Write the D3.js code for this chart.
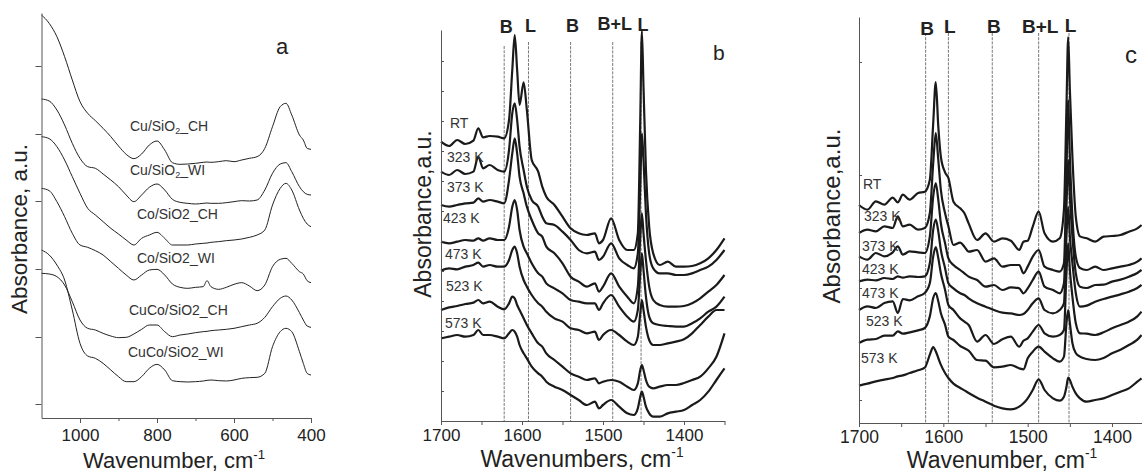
<!DOCTYPE html>
<html>
<head>
<meta charset="utf-8">
<script src="https://cdn.jsdelivr.net/npm/d3@7/dist/d3.min.js"></script>
<style>
  body { margin: 0; background: #fff; }
  svg { display: block; font-family: "Liberation Sans", Arial, sans-serif; }
</style>
</head>
<body>
<svg id="chart" width="1142" height="473"></svg>
<script>
// ---- panel a : spectra of the catalysts (absorbance x1000, a.u.)
const wnA = [1100,1080,1060,1040,1020,1000,980,960,940,920,900,880,860,840,820,800,780,760,740,720,
             700,680,670,660,640,620,600,580,560,540,520,500,480,465,450,430,420,410,400];
const cuCH   = [1209,1184,1144,1084,1014,949,914,892,869,844,816,791,778,792,819,831,804,766,761,762,
                764,767,768,767,769,772,769,774,779,784,809,874,934,944,909,849,834,809,806];
const cuWI   = [957,951,924,879,824,779,754,749,732,714,694,669,649,669,692,702,684,656,647,644,
                642,644,645,644,644,646,649,652,651,654,684,734,762,766,739,694,679,671,669];
const coCH   = [844,838,814,774,724,674,629,609,589,569,552,534,519,539,549,557,539,519,519,519,
                522,524,525,527,529,532,534,537,542,549,564,639,689,704,684,624,599,582,574];
const coWI   = [689,682,649,604,554,519,512,502,489,469,449,429,414,429,444,446,429,402,392,389,
                392,394,412,394,386,392,401,406,396,382,399,454,476,479,464,439,432,412,406];
const cucoCH = [434,432,424,399,349,294,269,264,254,246,241,242,252,266,279,279,259,244,249,252,
                256,259,260,262,264,266,269,274,279,284,302,334,359,366,354,316,294,276,272];
const cucoWI = [504,489,459,414,324,224,186,179,164,144,124,109,109,124,149,161,144,112,109,108,
                109,111,113,114,112,111,114,119,121,122,134,214,259,269,259,199,164,134,129];
const namesA = [['Cu/SiO', '2', '_CH'], ['Cu/SiO', '2', '_WI'], ['Co/SiO2_CH'], ['Co/SiO2_WI'],
                ['CuCo/SiO2_CH'], ['CuCo/SiO2_WI']];
const ticksA = [42, 243, 447, 651, 852, 1056];

// ---- panel b
const wnB = [1700,1690,1680,1670,1660,1654,1648,1640,1630,1622,1616,1612,1609,1606,1603,1598,1594,1588,1580,1575,
             1570,1560,1550,1540,1530,1520,1510,1505,1500,1490,1480,1470,1462,1457,1454,1452,1450,1447,1443,1438,
             1430,1420,1410,1400,1390,1380,1370,1360,1350];
const bRT  = [838,825,843,831,841,878,851,855,853,848,903,1053,1158,1053,948,1016,933,783,748,703,
              673,648,613,578,563,558,563,533,543,608,543,513,513,563,903,1170,1003,753,583,503,
              468,478,463,463,465,473,488,513,548];
const b323 = [748,738,753,741,748,793,758,768,753,748,813,923,953,903,823,753,703,663,643,613,
              593,588,568,543,513,503,508,483,493,533,488,468,458,503,703,863,783,623,503,458,
              443,443,438,438,443,453,463,483,513];
const b373 = [648,643,648,653,655,668,658,663,658,653,723,803,848,803,733,683,643,603,563,553,
              523,503,473,433,418,403,413,388,403,443,403,373,353,403,553,623,563,483,403,363,
              348,343,343,345,353,368,388,408,438];
const b423 = [538,533,538,543,541,548,541,548,543,543,583,643,663,633,573,523,503,473,443,433,
              413,398,383,363,358,353,353,333,353,378,343,313,298,333,443,503,453,373,313,293,
              288,285,283,283,293,308,328,343,373];
const b473 = [451,458,455,463,468,475,463,468,463,463,483,513,523,503,463,423,403,378,353,343,
              328,308,298,278,273,263,268,243,258,273,258,238,228,253,323,363,333,283,243,228,
              228,233,238,245,263,288,313,333,333];
const b523 = [333,341,345,351,355,363,353,358,343,335,353,373,368,348,333,308,288,263,233,223,
              203,183,163,143,133,123,128,113,118,123,118,103,93,113,153,168,153,123,103,98,
              103,108,108,114,123,133,158,193,263];
const b573 = [248,253,258,253,258,273,258,258,253,248,263,273,268,253,228,203,188,163,143,133,
              118,103,93,78,63,48,58,38,48,63,43,23,18,38,73,88,73,43,23,13,
              13,23,28,33,48,63,88,123,158];
const bandsB = [1622, 1592, 1540, 1488, 1453];
const ticksB = [90,180,270,360,450,540,630,720,810,900,990,1080];

// ---- panel c
const wnC = [1700,1690,1680,1670,1660,1654,1648,1640,1630,1622,1616,1612,1609,1606,1603,1598,1594,1588,1580,1575,
             1570,1560,1550,1540,1530,1520,1510,1505,1500,1494,1487,1480,1470,1462,1457,1454,1452,1450,1447,1443,
             1438,1430,1420,1410,1400,1390,1380,1370,1365];
const cRT  = [654,640,665,655,676,662,685,670,690,694,730,900,1023,890,800,752,735,664,644,629,
              599,549,569,544,554,547,519,544,547,589,634,569,544,554,640,950,1158,1000,800,620,
              560,554,544,559,561,564,574,584,594];
const c323 = [570,580,575,590,585,620,590,595,580,585,630,780,870,790,700,630,590,534,541,529,
              514,519,484,494,469,474,474,449,469,499,519,469,459,454,479,750,969,800,620,500,
              465,459,469,459,464,469,474,484,494];
const c373 = [500,490,510,500,512,530,505,515,512,510,560,680,720,670,600,540,494,474,459,449,
              439,429,409,414,399,407,404,389,404,429,454,409,399,389,419,650,789,680,560,450,
              409,405,414,415,424,430,439,450,459];
const c423 = [425,430,428,435,432,440,436,440,438,440,480,580,610,575,520,465,419,404,389,384,
              374,359,349,339,331,329,324,327,339,359,374,339,329,339,359,560,648,560,480,390,
              349,352,364,372,379,386,394,405,414];
const c473 = [339,350,345,360,365,330,372,368,380,390,420,500,528,495,450,400,354,339,314,304,
              294,244,264,237,251,259,229,247,254,274,294,269,259,264,279,450,540,460,380,300,
              269,268,264,272,284,294,304,320,334];
const c523 = [240,250,252,262,262,275,268,272,278,285,320,375,390,365,330,295,259,249,231,224,
              217,189,187,167,169,174,164,161,194,214,229,214,194,184,199,300,339,300,240,210,
              199,192,189,195,209,220,234,250,264];
const c573 = [112,118,125,130,135,140,143,150,158,166,205,228,215,195,175,150,135,118,105,98,
              90,76,64,52,44,41,49,59,74,99,131,99,74,67,79,109,136,129,109,89,
              74,64,69,74,84,94,104,124,134];
const bandsC = [1621, 1594, 1542, 1487, 1451];
const ticksC = [69, 405, 744, 1083];

const bandNames = ['B', 'L', 'B', 'B+L', 'L'];
const temps = ['RT', '323 K', '373 K', '423 K', '473 K', '523 K', '573 K'];

const svg = d3.select('#chart');

function drawPanel(p) {
    const x = d3.scaleLinear().domain(p.xdom).range(p.xrange);
    const y = d3.scaleLinear().domain(p.ydom).range(p.yrange);
    const g = svg.append('g');

    // band marker lines
    if (p.bands) {
        p.bands.forEach((b, i) => {
            g.append('line')
                .attr('x1', x(b)).attr('x2', x(b))
                .attr('y1', i == 0 ? p.bandTop + p.firstDrop : p.bandTop)
                .attr('y2', p.yrange[0])
                .attr('stroke', '#555')
                .attr('stroke-width', 0.8)
                .attr('stroke-dasharray', '3,1.2');
            g.append('text')
                .attr('x', x(b) + p.bandDx)
                .attr('y', p.bandY[i])
                .attr('text-anchor', 'middle')
                .style('font-size', p.bandSize + 'px')
                .style('font-weight', 'bold')
                .attr('fill', '#222')
                .text(bandNames[i]);
        });
    }

    const line = d3.line()
        .x((d, i) => x(p.wn[i]))
        .y(d => y(d))
        .curve(d3.curveMonotoneX);

    p.series.forEach(s => {
        g.append('path')
            .attr('d', line(s))
            .attr('fill', 'none')
            .attr('stroke', p.stroke)
            .attr('stroke-width', p.lw)
            .attr('stroke-linejoin', 'round');
    });

    // axes
    const xaxis = d3.axisBottom(x)
        .tickValues(p.xticks)
        .tickSize(p.xtickSize)
        .tickSizeOuter(0)
        .tickPadding(p.tickPad)
        .tickFormat(d => p.xlabels.includes(d) ? d : '');
    const xg = g.append('g')
        .attr('transform', `translate(0, ${p.yrange[0]})`)
        .call(xaxis);
    if (p.xminor) {
        g.append('g')
            .attr('transform', `translate(0, ${p.yrange[0]})`)
            .call(d3.axisBottom(x).tickValues(p.xminor).tickSize(3).tickSizeOuter(0).tickFormat(''))
            .select('.domain').remove();
    }
    const yaxis = d3.axisLeft(y)
        .tickValues(p.yticks)
        .tickSize(p.ytickSize)
        .tickSizeOuter(0)
        .tickFormat('');
    g.append('g')
        .attr('transform', `translate(${p.xrange[0]}, 0)`)
        .call(yaxis);

    g.selectAll('.domain').attr('stroke', '#555');
    g.selectAll('.tick line').attr('stroke', '#555');
    xg.selectAll('.tick text')
        .style('font-size', p.tickFont + 'px')
        .style('font-family', '"Liberation Sans", Arial, sans-serif')
        .attr('fill', '#222');

    // axis titles
    const xt = g.append('text')
        .attr('x', p.xtitle.x)
        .attr('y', p.xtitle.y)
        .attr('text-anchor', 'middle')
        .style('font-size', p.xtitle.size + 'px')
        .attr('fill', '#222');
    xt.append('tspan').text(p.xtitle.text);
    xt.append('tspan')
        .attr('dy', -p.xtitle.size * 0.42)
        .style('font-size', (p.xtitle.size * 0.6) + 'px')
        .text('-1');

    g.append('text')
        .attr('transform', `translate(${p.ytitle.x}, ${p.ytitle.y}) rotate(-90)`)
        .attr('text-anchor', 'middle')
        .style('font-size', p.ytitle.size + 'px')
        .attr('fill', '#222')
        .text(p.ytitle.text);

    g.append('text')
        .attr('x', p.letter.x)
        .attr('y', p.letter.y)
        .style('font-size', p.letter.size + 'px')
        .attr('fill', '#222')
        .text(p.letter.text);

    // curve labels
    p.labels.forEach((l, i) => {
        const t = g.append('text')
            .attr('x', p.labelX[i])
            .attr('y', p.labelY[i])
            .style('font-size', p.labelSize + 'px')
            .attr('fill', '#333');
        if (Array.isArray(l) && l.length == 3) {
            t.append('tspan').text(l[0]);
            t.append('tspan').attr('dy', 3).style('font-size', '9px').text(l[1]);
            t.append('tspan').attr('dy', -3).text(l[2]);
        } else {
            t.text(Array.isArray(l) ? l[0] : l);
        }
    });
}

drawPanel({
    wn: wnA, series: [cuCH, cuWI, coCH, coWI, cucoCH, cucoWI],
    xdom: [1100, 400], xrange: [41.5, 311],
    ydom: [0, 1215], yrange: [418, 13],
    stroke: '#222', lw: 1,
    xticks: [1000, 800, 600, 400], xlabels: [1000, 800, 600, 400], xtickSize: 5,
    xminor: [900, 700, 500],
    yticks: ticksA, ytickSize: 6,
    tickFont: 17, tickPad: 6,
    xtitle: {x: 174, y: 468, size: 22, text: 'Wavenumber, cm'},
    ytitle: {x: 27, y: 229, size: 22.5, text: 'Absorbance, a.u.'},
    letter: {x: 276, y: 54, size: 22, text: 'a'},
    labels: namesA, labelSize: 14,
    labelX: [130, 130, 137, 137, 129, 128],
    labelY: [131, 175, 219, 263, 315, 357]
});

drawPanel({
    wn: wnB, series: [bRT, b323, b373, b423, b473, b523, b573],
    xdom: [1700, 1350], xrange: [441, 724.5],
    ydom: [0, 1173], yrange: [421, 30],
    stroke: '#1a1a1a', lw: 2.2,
    bands: bandsB, bandTop: 42, firstDrop: 4, bandDx: 2, bandY: [33, 32, 32, 30, 31], bandSize: 18,
    xticks: [1700, 1650, 1600, 1550, 1500, 1450, 1400, 1350], xlabels: [1700, 1600, 1500, 1400], xtickSize: 4,
    yticks: ticksB, ytickSize: -3,
    tickFont: 17, tickPad: 4,
    xtitle: {x: 582, y: 467, size: 23, text: 'Wavenumbers, cm'},
    ytitle: {x: 431, y: 214, size: 23, text: 'Absorbance,a.u.'},
    letter: {x: 713, y: 60, size: 21, text: 'b'},
    labels: temps, labelSize: 14,
    labelX: [450, 447, 447, 443, 445, 446, 445],
    labelY: [128, 162, 192, 223, 259, 291, 328]
});

drawPanel({
    wn: wnC, series: [cRT, c323, c373, c423, c473, c523, c573],
    xdom: [1700, 1350], xrange: [859, 1154.2],
    ydom: [0, 1218], yrange: [423, 17],
    stroke: '#1a1a1a', lw: 2.2,
    bands: bandsC, bandTop: 33, firstDrop: 0, bandDx: 1.5, bandY: [35, 33, 33, 33, 32], bandSize: 19,
    xticks: [1700, 1650, 1600, 1550, 1500, 1450, 1400], xlabels: [1700, 1600, 1500, 1400], xtickSize: 4,
    yticks: ticksC, ytickSize: -3,
    tickFont: 17.5, tickPad: 4,
    xtitle: {x: 1002, y: 468, size: 23, text: 'Wavenumber, cm'},
    ytitle: {x: 840, y: 216, size: 24, text: 'Absorbance,a.u.'},
    letter: {x: 1125, y: 63, size: 24, text: 'c'},
    labels: temps, labelSize: 14,
    labelX: [863, 864, 862, 862, 862, 866, 861],
    labelY: [189, 221, 251, 274, 298, 326, 363]
});
</script>
</body>
</html>
